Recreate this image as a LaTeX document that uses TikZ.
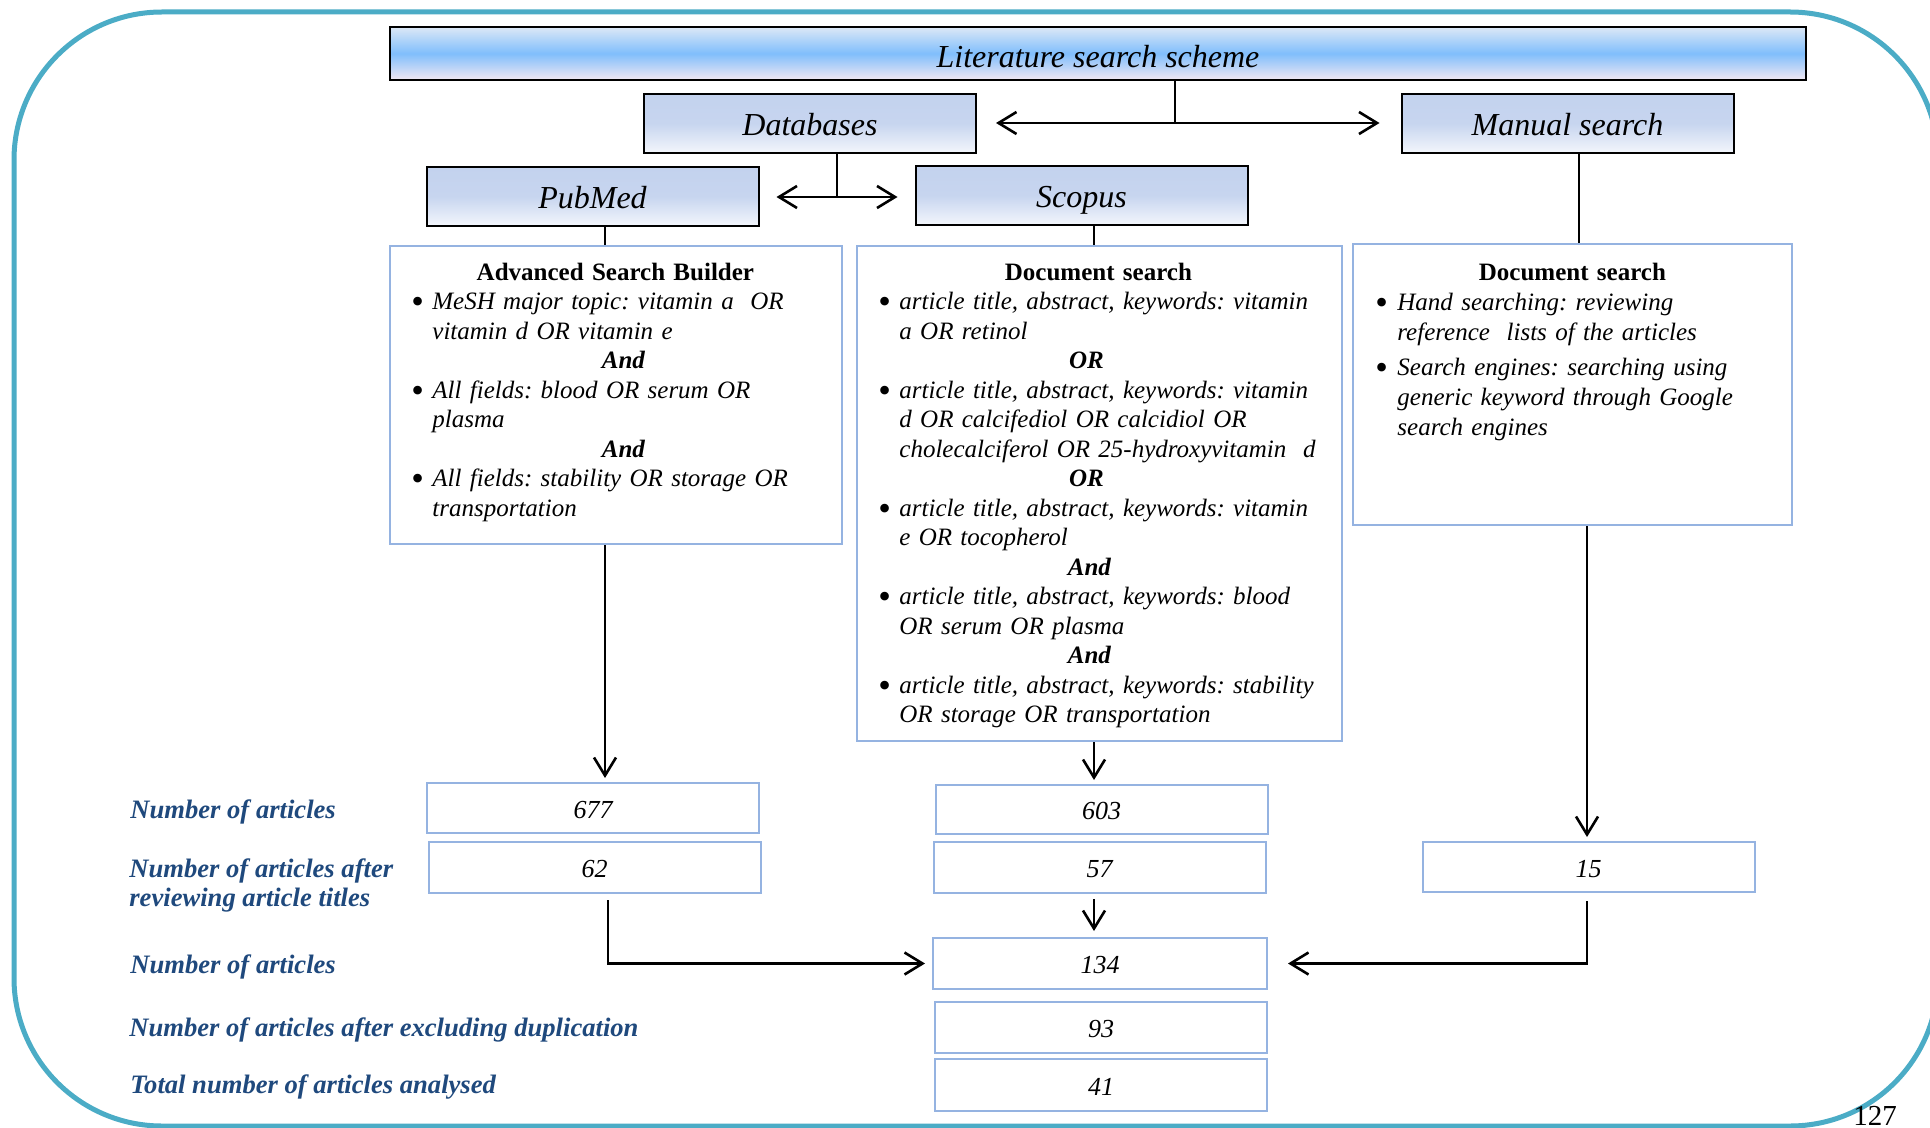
\documentclass[tikz,border=0pt]{standalone}
\usepackage{fontspec}
\setmainfont{Liberation Serif}
\usetikzlibrary{arrows.meta}

\definecolor{frameteal}{HTML}{4BACC6}
\definecolor{boxblue}{HTML}{95B3E1}
\definecolor{labelblue}{HTML}{1F497D}
\definecolor{titletop}{HTML}{DCE8F6}
\definecolor{titlemid}{HTML}{80BEFC}
\definecolor{titlebot}{HTML}{F2E8F3}
\definecolor{hdrtop}{HTML}{C3D2EE}
\definecolor{hdrmid}{HTML}{C7D5EF}
\definecolor{hdrbot}{HTML}{F3F6FC}

% centred line at a given offset from the left edge of a text block
\newcommand{\ctrtxt}[2]{\noindent\hspace*{#1}\makebox[0pt]{#2}\par}
% round list bullet
\newcommand{\listdot}{\raisebox{-1.9pt}{\fontsize{18pt}{18pt}\selectfont\textbullet}}
% bulleted item: bullet offset, text offset, italic lines
\newcommand{\bulitem}[3]{{\itshape\hangindent=#2\hangafter=1\noindent\hspace*{#1}\makebox[\dimexpr#2-#1\relax][l]{\upshape\listdot}#3\par}}
\newcommand{\bodyfont}{\fontsize{12.5pt}{14.75pt}\selectfont\frenchspacing}

\begin{document}
\begin{tikzpicture}[x=0.5pt,y=-0.5pt,
  titlebox/.style={draw=black, line width=1pt, inner sep=0pt,
    top color=titletop, bottom color=titlebot, middle color=titlemid,
    text height=14pt, text depth=0pt,
    font=\fontsize{16pt}{19pt}\selectfont\itshape},
  hdrbox/.style={draw=black, line width=1pt, inner sep=0pt,
    minimum width=166pt, minimum height=29.5pt,
    text height=13.5pt, text depth=1pt,
    top color=hdrtop, bottom color=hdrbot, middle color=hdrmid,
    font=\fontsize{16pt}{19pt}\selectfont\itshape},
  txtbox/.style={draw=boxblue, line width=1pt, inner sep=0pt, fill=white},
  txtcontent/.style={anchor=north west, inner sep=0pt, font=\bodyfont},
  numbox/.style={draw=boxblue, line width=1pt, inner sep=0pt, fill=white,
    minimum width=166pt, minimum height=25pt,
    text height=10pt, text depth=0pt,
    font=\fontsize{13pt}{15pt}\selectfont\itshape},
  lbl/.style={anchor=base west, inner sep=0pt, text=labelblue,
    font=\fontsize{13.3pt}{16pt}\selectfont\bfseries\itshape},
  conn/.style={draw=black, line width=1.3pt},
  arr/.style={conn, -{Straight Barb[length=9pt,width=11pt]}}
]
\path[use as bounding box, clip] (0,0) rectangle (1930,1128);
\fill[white] (0,0) rectangle (1930,1128);

% outer frame
\draw[frameteal, line width=2.5pt, rounded corners=74pt] (14,12) rectangle (1938,1126);

% header row
\node[titlebox, minimum width=708pt, minimum height=26.5pt] (title) at (1098,53.5) {Literature search scheme};
\node[hdrbox] (db) at (810,123.5) {Databases};
\node[hdrbox] (ms) at (1567.5,123.5) {Manual search};
\node[hdrbox] (pm) at (592.5,196.5) {PubMed};
\node[hdrbox] (sc) at (1081.5,195.5) {Scopus};

% search description boxes
\node[txtbox, minimum width=226pt, minimum height=149pt] (b1) at (616,395) {};
\node[txtbox, minimum width=242.5pt, minimum height=247.5pt] (b2) at (1099.5,493.5) {};
\node[txtbox, minimum width=219.5pt, minimum height=140.5pt] (b3) at (1572.5,384.5) {};

\node[txtcontent, text width=226pt] (b1t) at (390,260) {%
\ctrtxt{112.5pt}{\rule{0pt}{10pt}\bfseries Advanced Search Builder}
\bulitem{10.5pt}{21pt}{MeSH major topic: vitamin a\ \ OR\newline vitamin d OR vitamin e}
\ctrtxt{116.5pt}{\bfseries\itshape And}
\bulitem{10.5pt}{21pt}{All fields: blood OR serum OR\newline plasma}
\ctrtxt{116.5pt}{\bfseries\itshape And}
\bulitem{10.5pt}{21pt}{All fields: stability OR storage OR\newline transportation}};

\node[txtcontent, text width=242.5pt] (b2t) at (857,260) {%
\ctrtxt{120.5pt}{\rule{0pt}{10pt}\bfseries Document search}
\bulitem{10.5pt}{21pt}{article title, abstract, keywords: vitamin\newline a OR retinol}
\ctrtxt{114.5pt}{\bfseries\itshape OR}
\bulitem{10.5pt}{21pt}{article title, abstract, keywords: vitamin\newline d OR calcifediol OR calcidiol OR\newline cholecalciferol OR 25-hydroxyvitamin\ \ d}
\ctrtxt{114.5pt}{\bfseries\itshape OR}
\bulitem{10.5pt}{21pt}{article title, abstract, keywords: vitamin\newline e OR tocopherol}
\ctrtxt{116pt}{\bfseries\itshape And}
\bulitem{10.5pt}{21pt}{article title, abstract, keywords: blood\newline OR serum OR plasma}
\ctrtxt{116pt}{\bfseries\itshape And}
\bulitem{10.5pt}{21pt}{article title, abstract, keywords: stability\newline OR storage OR transportation}};

\node[txtcontent, text width=219.5pt, font=\fontsize{12.5pt}{15pt}\selectfont\frenchspacing] (b3t) at (1353,260) {%
\ctrtxt{109.5pt}{\rule{0pt}{10pt}\bfseries Document search}
\bulitem{11pt}{22pt}{Hand searching: reviewing\newline reference\ \ lists of the articles}
\vspace{2.5pt}
\bulitem{11pt}{22pt}{Search engines: searching using\newline generic keyword through Google\newline search engines}};

% article counts
\node[numbox] (n677) at (593,808) {677};
\node[numbox, minimum height=25.5pt] (n62) at (594.5,867.5) {62};
\node[numbox, minimum height=24.5pt] (n603) at (1101.5,809.5) {603};
\node[numbox, minimum height=25.5pt] (n57) at (1099.5,867.5) {57};
\node[numbox] (n15) at (1588.5,867) {15};
\node[numbox, minimum width=167pt, minimum height=25.5pt] (n134) at (1100,963.5) {134};
\node[numbox, minimum height=25.5pt] (n93) at (1101,1027.5) {93};
\node[numbox, minimum height=26pt] (n41) at (1101,1085) {41};

% row labels
\node[lbl] (l1) at (130,818) {Number of articles};
\node[lbl] (l2a) at (129,877) {Number of articles after};
\node[lbl] (l2b) at (129,906) {reviewing article titles};
\node[lbl] (l3) at (130,973) {Number of articles};
\node[lbl] (l4) at (129,1036) {Number of articles after excluding duplication};
\node[lbl] (l5) at (130,1093) {Total number of articles analysed};

% page number
\node[anchor=base west, inner sep=0pt, font=\fontsize{14.5pt}{17pt}\selectfont] (pg) at (1853,1125) {127};

% connector columns and junctions
\coordinate (j1) at (1175,123);
\coordinate (j2) at (837,197);
\coordinate (xa) at (605,0);
\coordinate (xb) at (1094,0);
\coordinate (xc) at (1579,0);
\coordinate (xd) at (1587,0);
\coordinate (xe) at (608,0);

\draw[arr, shorten >=9.5pt] (title.south -| j1) -- (j1) -- (db.east |- j1);
\draw[arr, shorten >=10.5pt] (j1) -- (ms.west |- j1);
\draw[arr, shorten >=8.5pt] (db.south -| j2) -- (j2) -- (pm.east |- j2);
\draw[arr, shorten >=8.5pt] (j2) -- (sc.west |- j2);

\draw[conn] (pm.south -| xa) -- (b1.north -| xa);
\draw[conn] (sc.south -| xb) -- (b2.north -| xb);
\draw[conn] (ms.south -| xc) -- (b3.north -| xc);

\draw[arr, shorten >=2pt] (b1.south -| xa) -- (n677.north -| xa);
\draw[arr, shorten >=2pt] (b2.south -| xb) -- (n603.north -| xb);
\draw[arr, shorten >=2pt] (b3.south -| xd) -- (n15.north -| xd);
\draw[arr, shorten <=2.5pt, shorten >=3pt] (n57.south -| xb) -- (n134.north -| xb);
\draw[arr, shorten <=3pt, shorten >=3.5pt] (n62.south -| xe) -- (xe |- n134.west) -- (n134.west);
\draw[arr, shorten <=4pt, shorten >=10pt] (n15.south -| xd) -- (xd |- n134.east) -- (n134.east);
\end{tikzpicture}
\end{document}
